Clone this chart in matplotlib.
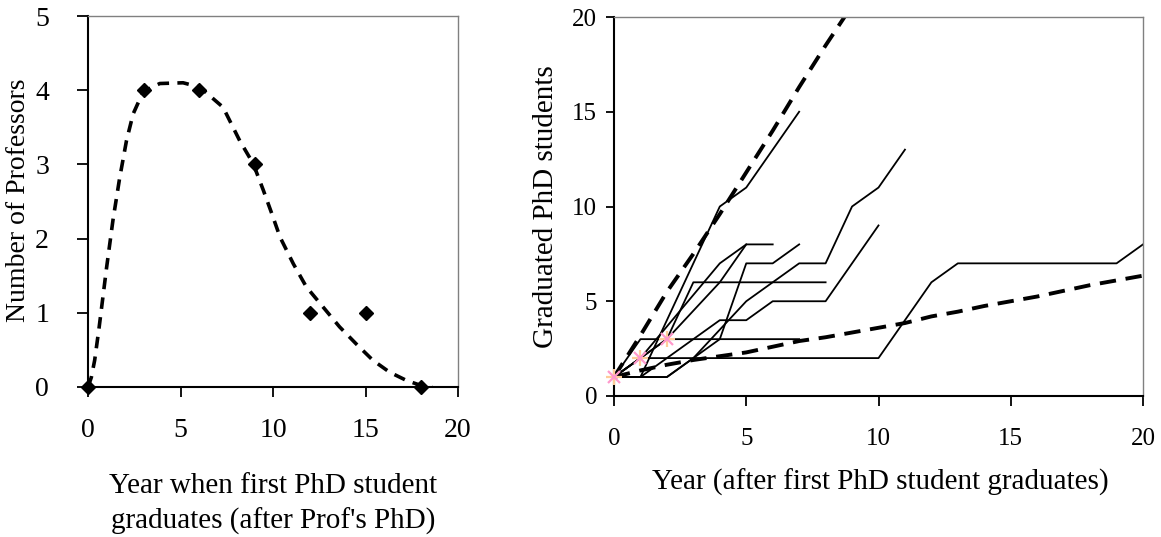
import matplotlib
matplotlib.use("Agg")
import matplotlib.pyplot as plt
from matplotlib.transforms import Bbox

plt.rcParams['font.family'] = ['Liberation Serif', 'DejaVu Serif']

# --- left panel: number of professors vs. year of first graduate ---
prof_year = [0, 3, 6, 9, 12, 15, 18]
prof_count = [0, 4, 4, 3, 1, 1, 0]

# fitted curve
fit_x = [0, 0.18, 0.36, 0.6, 1.0, 1.35, 1.7, 2.08, 2.44, 2.98, 3.88, 5.14, 6.05, 7.3,
         8.2, 8.93, 9.48, 9.93, 10.38, 11.1, 11.8, 12.7, 13.6, 14.5, 15.4, 16.3, 17.2,
         18.0, 18.6]
fit_y = [0, 0.13, 0.36, 0.8, 1.6, 2.25, 2.8, 3.32, 3.68, 3.98, 4.09, 4.1, 4.04, 3.77,
         3.32, 3.01, 2.65, 2.34, 2.02, 1.66, 1.35, 1.08, 0.81, 0.58, 0.36, 0.2, 0.09,
         0.02, 0.0]

# --- right panel: cumulative graduated students per professor ---
students = [
    ([0, 1, 2, 3, 4, 5, 6, 7], [1, 1, 4, 7, 10, 11, 13, 15]),
    ([0, 1, 10, 11, 12, 13, 19, 20], [1, 2, 2, 4, 6, 7, 7, 8]),
    ([0, 1, 7], [1, 3, 3]),
    ([0, 1, 2, 3, 8], [1, 2, 3, 6, 6]),
    ([0, 2, 3, 4, 5, 6, 7], [1, 1, 2, 3, 7, 7, 8]),
    ([0, 1, 4, 5, 6], [1, 2, 7, 8, 8]),
    ([0, 2, 4, 5], [1, 3, 6, 8]),
    ([0, 1, 4, 5, 6, 8, 9, 10], [1, 1, 4, 4, 5, 5, 7, 9]),
    ([0, 2, 3, 5, 7, 8, 9, 10, 11], [1, 1, 2, 5, 7, 7, 10, 11, 13]),
]

upper_x = [0, 1, 2, 3, 4, 5, 6, 7, 8, 9]
upper_y = [1, 3.2, 5.5, 7.5, 9.6, 11.8, 14.0, 16.3, 18.5, 20.6]

lower_x = list(range(21))
lower_y = [1.0, 1.35, 1.65, 1.9, 2.1, 2.3, 2.6, 2.9, 3.1, 3.35, 3.6, 3.85, 4.2, 4.45,
           4.75, 5.0, 5.25, 5.55, 5.85, 6.1, 6.35]

star_x = [0, 1, 2]
star_y = [1, 2, 3]

fig = plt.figure(figsize=(11.61, 5.37), dpi=100)
W, H = 1161, 537


def box(x0, y0, x1, y1):
    # pixel box (top-left origin) -> figure fraction
    return [x0 / W, (H - y1) / H, (x1 - x0) / W, (y1 - y0) / H]


def style_axes(ax, size, xpad, ypad, ylen):
    for s in ['top', 'right']:
        ax.spines[s].set_color('#808080')
        ax.spines[s].set_linewidth(1.0)
    for s in ['left', 'bottom']:
        ax.spines[s].set_color('black')
        ax.spines[s].set_linewidth(1.5)
    ax.tick_params(axis='x', direction='out', length=7, width=1.3, pad=xpad,
                   labelsize=size, top=False)
    ax.tick_params(axis='y', direction='out', length=ylen, width=1.3, pad=ypad,
                   labelsize=size, right=False)


ax1 = fig.add_axes(box(88, 16, 458, 387))
ax1.plot(fit_x, fit_y, color='black', lw=2.6, linestyle=(0, (3.2, 2.3)))
ax1.plot(prof_year, prof_count, linestyle='none', marker='D', color='black',
         markersize=7, clip_on=False, zorder=5)
ax1.set_xlim(0, 20)
ax1.set_ylim(0, 5)
ax1.set_xticks([0, 5, 10, 15, 20])
ax1.set_yticks([0, 1, 2, 3, 4, 5])
style_axes(ax1, 20, 15, 20, 8)

ax2 = fig.add_axes(box(614, 17, 1143, 396))
for xs, ys in students:
    ax2.plot(xs, ys, color='black', lw=1.3)
ax2.plot(upper_x, upper_y, color='black', lw=2.8, linestyle=(0, (4.2, 2.5)))
ax2.plot(lower_x, lower_y, color='black', lw=2.8, linestyle=(0, (4.2, 2.5)))
ax2.plot(star_x, star_y, linestyle='none', marker='+', color='#FFCC99',
         markersize=11, mew=1.6, clip_on=False, zorder=6)
ax2.plot(star_x, star_y, linestyle='none', marker='x', color='#FF99CC',
         markersize=9, mew=1.6, clip_on=False, zorder=6)
ax2.set_xlim(0, 20)
ax2.set_ylim(0, 20)
ax2.set_xticks([0, 5, 10, 15, 20])
ax2.set_yticks([0, 5, 10, 15, 20])
style_axes(ax2, 18, 16, 6, 6)

# axis titles placed like the original, clipped where the original is cut off
fig.text(273 / W, 1 - 504 / H, "Year when first PhD student\ngraduates (after Prof's PhD)",
         ha='center', va='center', fontsize=21, linespacing=1.4)
fig.text(880 / W, 1 - 482 / H, "Year (after first PhD student graduates)",
         ha='center', va='center', fontsize=21)

t1 = fig.text(19 / W, 1 - 200 / H, "Number of Professors", rotation=90,
              ha='center', va='center', fontsize=20)
t1.set_clip_box(Bbox.from_extents(0, 0, 80, H - 76))
t2 = fig.text(546 / W, 1 - 207 / H, "Graduated PhD students", rotation=90,
              ha='center', va='center', fontsize=21)
t2.set_clip_box(Bbox.from_extents(520, 0, 600, H - 20))

fig.savefig('out.png', dpi=100)
